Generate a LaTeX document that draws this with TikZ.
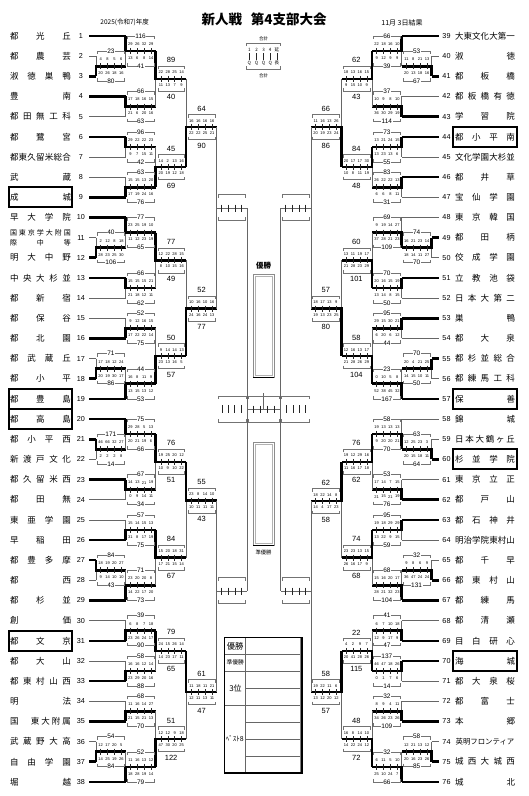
\documentclass[tikz,border=0pt]{standalone}
\usepackage{fontspec}
\setmainfont{Liberation Sans}
\newfontfamily\jp{Noto Sans CJK JP}
\usetikzlibrary{calc}
\def\gp{\hfill}
\newcommand\kokusai{\vbox{\hbox to 61pt{\fontsize{7}{7}\selectfont 国\gp 東\gp 京\gp 学\gp 大\gp 附\gp 国}\vskip2pt\hbox to 61pt{\fontsize{7}{7}\selectfont 際\gp 中\gp 等}}}
\tikzset{
 thinl/.style={draw=black!60, line width=0.6pt},
 thickl/.style={draw=black, line width=2.6pt, line join=miter},
 brk/.style={draw=black!55, line width=0.5pt},
 tickm/.style={draw=black!85, line width=0.45pt},
 lname/.style={inner sep=0pt, font=\jp\fontsize{8.5}{8.5}\selectfont},
 tnum/.style={inner sep=0pt, font=\fontsize{7.2}{7.2}\selectfont},
 qtxt/.style={inner sep=0pt, font=\fontsize{4}{4}\selectfont},
 laba/.style={inner sep=0.5pt, fill=white, font=\fontsize{6.5}{6.5}\selectfont},
 labb/.style={inner sep=0pt, font=\fontsize{7.5}{7.5}\selectfont},
 namebox/.style={draw=black, line width=1.8pt},
 leg/.style={inner sep=0pt, font=\jp\fontsize{4.5}{4.5}\selectfont},
 tabline/.style={draw=black!60, line width=0.9pt},
}
\newcommand\drawbout[4]{%
  \ifcase#4\relax
    \draw[thinl] (#2) -- (#3);
    \draw[thinl] (#2 |- #1) -- (#1);
  \or
    \draw[thinl] (#3) -- (#2 |- #1);
    \draw[thickl] (#2) -- (#2 |- #1) -- (#1);
  \or
    \draw[thinl] (#2) -- (#3 |- #1);
    \draw[thickl] (#3) -- (#3 |- #1) -- (#1);
  \fi}
\newcommand\bout[5]{%
  \path let \p1=($(#2)!.5!(#3)$) in (#4,\y1) coordinate (#1);
  \drawbout{#1}{#2}{#3}{#5}}
\newcommand\boutat[6]{%
  \coordinate (#1) at (#4,#5);
  \drawbout{#1}{#2}{#3}{#6}}
\def\qparse#1 #2 #3 #4\qend{\def\qA{#1}\def\qB{#2}\def\qC{#3}\def\qD{#4}}
\newcommand\scorebox[7]{%
  \if#2L\def\bxl{-29.75}\else\def\bxl{0}\fi
  \if#3a\def\by{15}\def\ly{15}\def\qy{7}\tikzset{curlab/.style={laba}}%
  \else\def\by{12.5}\def\ly{18.5}\def\qy{6.3}\tikzset{curlab/.style={labb}}\fi
  \begin{scope}[shift={(#1)}]
    \draw[brk] (\bxl+1.5,-\by+3) -- (\bxl+1.5,-\by) -- (\bxl+28.25,-\by) -- (\bxl+28.25,-\by+3);
    \draw[brk] (\bxl+1.5,\by-3) -- (\bxl+1.5,\by) -- (\bxl+28.25,\by) -- (\bxl+28.25,\by-3);
    \node[curlab] at (\bxl+14.9,-\ly) {#4};
    \node[curlab] at (\bxl+14.9,\ly) {#7};
    \foreach \qx in {4.65,11.55,18.45,25.35} \draw[tickm] (\bxl+\qx,-3) -- (\bxl+\qx,3);
    \edef\tmp{#5}\expandafter\qparse\tmp\qend
    \node[qtxt] at (\bxl+4.65,-\qy) {\qA};
    \node[qtxt] at (\bxl+11.55,-\qy) {\qB};
    \node[qtxt] at (\bxl+18.45,-\qy) {\qC};
    \node[qtxt] at (\bxl+25.35,-\qy) {\qD};
    \edef\tmp{#6}\expandafter\qparse\tmp\qend
    \node[qtxt] at (\bxl+4.65,\qy) {\qA};
    \node[qtxt] at (\bxl+11.55,\qy) {\qB};
    \node[qtxt] at (\bxl+18.45,\qy) {\qC};
    \node[qtxt] at (\bxl+25.35,\qy) {\qD};
  \end{scope}}
\newcommand\semibox[2]{%
  \if#2L\def\bxl{-30.5}\else\def\bxl{0}\fi
  \begin{scope}[shift={(#1)}]
   \draw[brk] (\bxl+1.5,-10.5) -- (\bxl+1.5,-13.5) -- (\bxl+29,-13.5) -- (\bxl+29,-10.5);
   \draw[brk] (\bxl+1.5,9) -- (\bxl+1.5,12) -- (\bxl+29,12) -- (\bxl+29,9);
   \foreach \qx in {5.2,11.8,18.4,25} \draw[tickm] (\bxl+\qx,-3.5) -- (\bxl+\qx,3.5);
  \end{scope}}
\begin{document}
\begin{tikzpicture}[x=1pt,y=-1pt]
\useasboundingbox (0,0) rectangle (529,796);
\fill[white] (0,0) rectangle (529,796);
% titles
\node[inner sep=0pt, font=\jp\bfseries\fontsize{13.5}{13.5}\selectfont] (ttl) at (264.2,19.5) {新人戦\hspace{0.65em}第4支部大会};
\node[inner sep=0pt, font=\jp\fontsize{6.5}{6.5}\selectfont] (yr) at (124.7,22.7) {2025(令和7)年度};
\node[inner sep=0pt, font=\jp\fontsize{7}{7}\selectfont] (dt) at (402,22.7) {11月 3日結果};
% legend
\node[leg] (lg1) at (263.5,38.3) {合計};
\draw[brk] (246.5,46) -- (246.5,43.3) -- (280.5,43.3) -- (280.5,46);
\draw[brk] (246.5,66.3) -- (246.5,69) -- (280.5,69) -- (280.5,66.3);
\foreach \xx/\ta/\tb in {249.3/1/Q,256.6/2/Q,263.5/3/Q,270.2/4/Q,276.8/延/長}{%
  \node[leg] at (\xx,49.5) {\ta};
  \draw[tickm] (\xx,53) -- (\xx,59.5);
  \node[leg] at (\xx,62.8) {\tb};}
\node[leg] (lg2) at (263.5,75.3) {合計};
% left teams
\foreach \i/\nm/\cc/\w/\bx in {
 1/都\gp 光\gp 丘/2/1/0, 2/都\gp 農\gp 芸/1/0/0, 3/淑\gp 徳\gp 巣\gp 鴨/1/1/0,
 4/豊\gp 南/2/1/0, 5/都\gp 田\gp 無\gp 工\gp 科/2/0/0, 6/都\gp 鷺\gp 宮/2/1/0,
 7/都\gp 東\gp 久\gp 留\gp 米\gp 総\gp 合/2/0/0, 8/武\gp 蔵/2/0/0, 9/成\gp 城/2/1/1,
 10/早\gp 大\gp 学\gp 院/2/1/0, 11/\kokusai/1/0/0, 12/明\gp 大\gp 中\gp 野/1/1/0,
 13/中\gp 央\gp 大\gp 杉\gp 並/2/1/0, 14/都\gp 新\gp 宿/2/0/0, 15/都\gp 保\gp 谷/2/0/0,
 16/都\gp 北\gp 園/2/1/0, 17/都\gp 武\gp 蔵\gp 丘/1/0/0, 18/都\gp 小\gp 平/1/1/0,
 19/都\gp 豊\gp 島/2/1/1, 20/都\gp 高\gp 島/2/1/1, 21/都\gp 小\gp 平\gp 西/1/1/0,
 22/新\gp 渡\gp 戸\gp 文\gp 化/1/0/0, 23/都\gp 久\gp 留\gp 米\gp 西/2/1/0, 24/都\gp 田\gp 無/2/0/0,
 25/東\gp 亜\gp 学\gp 園/2/0/0, 26/早\gp 稲\gp 田/2/1/0, 27/都\gp 豊\gp 多\gp 摩/1/1/0,
 28/都\gp 西/1/0/0, 29/都\gp 杉\gp 並/2/1/0, 30/創\gp 価/2/0/0,
 31/都\gp 文\gp 京/2/1/1, 32/都\gp 大\gp 山/2/0/0, 33/都\gp 東\gp 村\gp 山\gp 西/2/1/0,
 34/明\gp 法/2/0/0, 35/国\gp\gp\gp\gp\gp\gp 東\gp 大\gp 附\gp 属/2/1/0, 36/武\gp 蔵\gp 野\gp 大\gp 高/1/0/0,
 37/自\gp 由\gp 学\gp 園/1/1/0, 38/堀\gp 越/2/1/0}{%
  \pgfmathsetmacro\yy{36+(\i-1)*20.16}
  \node[lname] (t\i) at (40.5,\yy) {\makebox[61pt]{\nm}};
  \node[tnum] (k\i) at (81,\yy) {\i};
  \coordinate (s\i) at (89,\yy);
  \ifnum\cc=1 \coordinate (e\i) at (96,\yy); \else \coordinate (e\i) at (125.75,\yy); \fi
  \ifnum\w=1 \draw[thickl] (s\i) -- (e\i); \else \draw[thinl] (s\i) -- (e\i); \fi
  \ifnum\bx=1 \draw[namebox] (9,\yy-10) rectangle (72,\yy+10); \fi
}
% right teams
\foreach \i/\nm/\cc/\w/\bx in {
 39/大\gp 東\gp 文\gp 化\gp 大\gp 第\gp 一/2/1/0, 40/淑\gp 徳/1/0/0, 41/都\gp 板\gp 橋/1/1/0,
 42/都\gp 板\gp 橋\gp 有\gp 徳/2/0/0, 43/学\gp 習\gp 院/2/1/0, 44/都\gp 小\gp 平\gp 南/2/1/1,
 45/文\gp 化\gp 学\gp 園\gp 大\gp 杉\gp 並/2/0/0, 46/都\gp 井\gp 草/2/1/0, 47/宝\gp 仙\gp 学\gp 園/2/0/0,
 48/東\gp 京\gp 韓\gp 国/2/0/0, 49/都\gp 田\gp 柄/1/1/0, 50/佼\gp 成\gp 学\gp 園/1/0/0,
 51/立\gp 教\gp 池\gp 袋/2/1/0, 52/日\gp 本\gp 大\gp 第\gp 二/2/0/0, 53/巣\gp 鴨/2/1/0,
 54/都\gp 大\gp 泉/2/0/0, 55/都\gp 杉\gp 並\gp 総\gp 合/1/1/0, 56/都\gp 練\gp 馬\gp 工\gp 科/1/0/0,
 57/保\gp 善/2/1/1, 58/錦\gp 城/2/0/0, 59/日\gp 本\gp 大\gp 鶴\gp ヶ\gp 丘/1/0/0,
 60/杉\gp 並\gp 学\gp 院/1/1/1, 61/東\gp 京\gp 立\gp 正/2/0/0, 62/都\gp 戸\gp 山/2/1/0,
 63/都\gp 石\gp 神\gp 井/2/1/0, 64/明\gp 治\gp 学\gp 院\gp 東\gp 村\gp 山/2/0/0, 65/都\gp 千\gp 早/1/0/0,
 66/都\gp 東\gp 村\gp 山/1/1/0, 67/都\gp 練\gp 馬/2/1/0, 68/都\gp 清\gp 瀬/2/0/0,
 69/目\gp 白\gp 研\gp 心/2/1/0, 70/海\gp 城/2/1/1, 71/都\gp 大\gp 泉\gp 桜/2/0/0,
 72/都\gp 富\gp 士/2/0/0, 73/本\gp 郷/2/1/0, 74/{\fontsize{7.4}{7.4}\selectfont 英明フロンティア}/1/0/0,
 75/城\gp 西\gp 大\gp 城\gp 西/1/1/0, 76/城\gp 北/2/1/0}{%
  \pgfmathsetmacro\yy{36+(\i-39)*20.16}
  \node[lname] (t\i) at (485,\yy) {\makebox[60pt]{\nm}};
  \node[tnum] (k\i) at (446.5,\yy) {\i};
  \coordinate (s\i) at (438.5,\yy);
  \ifnum\cc=1 \coordinate (e\i) at (431.5,\yy); \else \coordinate (e\i) at (401.75,\yy); \fi
  \ifnum\w=1 \draw[thickl] (s\i) -- (e\i); \else \draw[thinl] (s\i) -- (e\i); \fi
  \ifnum\bx=1 \draw[namebox] (453,\yy-10) rectangle (517,\yy+10); \fi
}
% ---- left bracket
\foreach \o/\a/\b/\w in {m1/e2/e3/2, m2/e11/e12/2, m3/e17/e18/2, m4/e21/e22/1, m5/e27/e28/1, m6/e36/e37/2}
  {\bout{\o}{\a}{\b}{125.75}{\w}}
\foreach \o/\a/\b/\w in {n1/e1/m1/1, n2/e4/e5/1, n3/e6/e7/1, n4/e8/e9/2, n5/e10/m2/1, n6/e13/e14/1,
  n7/e15/e16/2, n8/m3/e19/2, n9/e20/m4/1, n10/e23/e24/1, n11/e25/e26/2, n12/m5/e29/2,
  n13/e30/e31/2, n14/e32/e33/2, n15/e34/e35/2, n16/m6/e38/2}
  {\bout{\o}{\a}{\b}{155.5}{\w}}
\foreach \o/\a/\b/\w in {o1/n1/n2/1, o2/n3/n4/2, o3/n5/n6/1, o4/n7/n8/2, o5/n9/n10/1, o6/n11/n12/1, o7/n13/n14/1, o8/n15/n16/2}
  {\bout{\o}{\a}{\b}{186}{\w}}
\foreach \o/\a/\b/\yy/\w in {p1/o1/o2/127/2, p2/o3/o4/308.5/2, p3/o5/o6/500.5/1, p4/o7/o8/692/1}
  {\boutat{\o}{\a}{\b}{216.5}{\yy}{\w}}
\boutat{q1}{p1}{p2}{247}{208}{0}
\boutat{q2}{p3}{p4}{247}{591}{0}
% ---- right bracket
\foreach \o/\a/\b/\w in {M1/e40/e41/2, M2/e49/e50/1, M3/e55/e56/1, M4/e59/e60/2, M5/e65/e66/2, M6/e74/e75/2}
  {\bout{\o}{\a}{\b}{401.75}{\w}}
\foreach \o/\a/\b/\w in {N1/e39/M1/1, N2/e42/e43/2, N3/e44/e45/1, N4/e46/e47/1, N5/e48/M2/2, N6/e51/e52/1,
  N7/e53/e54/1, N8/M3/e57/2, N9/e58/M4/2, N10/e61/e62/2, N11/e63/e64/1, N12/M5/e67/2,
  N13/e68/e69/2, N14/e70/e71/1, N15/e72/e73/2, N16/M6/e76/2}
  {\bout{\o}{\a}{\b}{372}{\w}}
\foreach \o/\a/\b/\w in {O1/N1/N2/1, O2/N3/N4/1, O3/N5/N6/2, O4/N7/N8/2, O5/N9/N10/1, O6/N11/N12/1, O7/N13/N14/2, O8/N15/N16/2}
  {\bout{\o}{\a}{\b}{341.5}{\w}}
\foreach \o/\a/\b/\yy/\w in {P1/O1/O2/127/2, P2/O3/O4/308.5/2, P3/O5/O6/501/1, P4/O7/O8/692/1}
  {\boutat{\o}{\a}{\b}{311}{\yy}{\w}}
\boutat{Q1}{P1}{P2}{280.5}{208}{0}
\boutat{Q2}{P3}{P4}{280.5}{591}{0}
% ---- final
\draw[thinl] (q1) -- (q2);
\draw[thinl] (Q1) -- (Q2);
\coordinate (fc) at (263.75,409);
\coordinate (fs) at (263.75,393);
\draw[thinl] (q1 |- fc) -- (Q1 |- fc);
\draw[thinl] (fc) -- (fs);
\foreach \xa/\xb in {218/246, 248.5/279, 281.5/309.5}{%
  \draw[brk] (\xa,399) -- (\xa,396) -- (\xb,396) -- (\xb,399);
  \draw[brk] (\xa,419) -- (\xa,422) -- (\xb,422) -- (\xb,419);}
\foreach \xx in {222,228,234.5,241,286.5,293,299.5,305.5} \draw[tickm] (\xx,405) -- (\xx,413);
\foreach \xx in {253,260,267.5,274.5} \draw[tickm] (\xx,405.5) -- (\xx,412.5);
% semi boxes
\semibox{q1}{L}\semibox{q2}{L}\semibox{Q1}{R}\semibox{Q2}{R}
% ---- score boxes
\foreach \mm/\bs/\bt/\tA/\qa/\qb/\tB in {
 m1/L/a/23/4 8 5 6/20 26 18 16/80, m2/L/a/40/2 12 8 18/28 23 25 30/106,
 m3/L/a/71/17 18 12 24/20 19 30 17/86, m4/L/a/171/46 66 32 27/2 2 2 8/14,
 m5/L/a/84/18 19 20 27/9 14 10 10/43, m6/L/a/54/12 17 20 5/14 25 19 26/84,
 n1/L/a/116/29 26 32 29/13 6 8 14/41, n2/L/a/66/17 18 16 15/21 6 20 16/63,
 n3/L/a/96/29 22 22 23/9 7 15 11/42, n4/L/a/63/15 15 13 20/17 19 24 16/76,
 n5/L/a/77/23 25 19 10/11 12 23 19/65, n6/L/a/66/15 15 15 21/21 18 12 11/62,
 n7/L/a/52/9 12 16 15/17 22 22 14/75, n8/L/a/44/16 8 11 9/13 15 13 12/53,
 n9/L/a/75/29 28 5 13/20 21 19 6/66, n10/L/a/67/14 13 21 19/0 9 14 11/34,
 n11/L/a/57/15 14 15 13/31 8 17 19/75, n12/L/a/71/23 20 20 8/14 22 17 20/73,
 n13/L/a/39/6 8 7 18/23 26 24 17/90, n14/L/a/58/16 16 12 14/23 29 20 16/88,
 n15/L/a/68/11 16 14 27/21 15 21 13/70, n16/L/a/52/11 16 13 12/18 28 19 14/79,
 o1/L/b/89/22 28 25 14/11 13 7 9/40, o2/L/b/45/14 2 13 16/20 19 12 18/69,
 o3/L/b/77/12 22 28 15/8 10 15 16/49, o4/L/b/50/9 14 14 13/23 13 16 5/57,
 o5/L/b/76/19 25 20 12/10 9 10 22/51, o6/L/b/84/15 20 18 31/17 21 15 14/67,
 o7/L/b/79/24 15 26 14/14 23 17 11/65, o8/L/b/51/12 12 9 18/47 30 20 25/122,
 p1/L/b/64/16 16 16 16/22 22 25 21/90, p2/L/b/52/10 16 10 16/24 16 24 13/77,
 p3/L/b/55/23 8 14 10/10 11 11 11/43, p4/L/b/61/11 18 11 21/12 11 13 11/47,
 M1/R/a/53/11 8 21 13/20 13 18 16/67, M2/R/a/74/16 21 23 14/18 14 11 27/70,
 M3/R/a/70/20 4 21 25/14 15 10 11/50, M4/R/a/63/12 25 23 3/20 15 18 11/64,
 M5/R/a/32/9 8 6 9/36 47 24 24/131, M6/R/a/58/12 21 13 12/20 16 23 26/85,
 N1/R/a/66/22 18 16 10/9 12 9 9/39, N2/R/a/37/10 9 8 10/36 30 29 19/114,
 N3/R/a/73/13 21 24 15/13 23 13 6/55, N4/R/a/83/26 22 22 13/6 6 8 11/31,
 N5/R/a/69/9 19 14 27/37 28 21 23/109, N6/R/a/70/20 16 15 19/13 14 8 15/50,
 N7/R/a/95/29 15 30 21/6 20 6 12/44, N8/R/a/23/0 10 5 8/52 38 45 32/167,
 N9/R/a/58/19 13 13 13/9 20 20 21/70, N10/R/a/53/17 14 7 15/21 15 21 19/76,
 N11/R/a/95/19 18 29 29/13 22 9 15/59, N12/R/a/68/15 16 20 17/28 21 32 23/104,
 N13/R/a/41/6 7 10 18/12 9 17 9/47, N14/R/a/137/46 47 18 26/0 1 7 6/14,
 N15/R/a/32/8 9 4 11/34 26 23 26/109, N16/R/a/32/6 11 5 10/25 10 24 7/66,
 O1/R/b/62/18 13 16 15/9 15 10 9/43, O2/R/b/84/20 17 17 30/10 8 11 19/48,
 O3/R/b/60/13 11 19 17/21 28 23 29/101, O4/R/b/58/12 16 13 17/21 28 26 29/104,
 O5/R/b/76/19 12 29 16/11 16 17 18/62, O6/R/b/74/23 23 13 15/26 16 17 9/68,
 O7/R/b/22/4 2 9 7/20 41 28 26/115, O8/R/b/48/16 8 14 10/14 22 24 12/72,
 P1/R/b/66/11 16 13 26/20 19 23 24/86, P2/R/b/57/18 17 13 9/19 13 23 25/80,
 P3/R/b/62/18 22 14 8/14 4 17 23/58, P4/R/b/58/19 22 11 6/13 12 20 12/57}
 {\scorebox{\mm}{\bs}{\bt}{\tA}{\qa}{\qb}{\tB}}
% ---- champion frames
\node[inner sep=0pt, font=\jp\bfseries\fontsize{7.5}{7.5}\selectfont] (lw) at (263.5,266) {優勝};
\draw[draw=black!45, line width=0.8pt] (253,274) rectangle (274.3,377);
\draw[draw=black!30, line width=0.8pt] (255,276) rectangle (272.3,375);
\draw[black, line width=1pt] (253,377) -- (274.3,377);
\draw[draw=black!45, line width=0.8pt] (253,442.3) rectangle (274.3,545);
\draw[draw=black!30, line width=0.8pt] (255,444.3) rectangle (272.3,543);
\draw[black, line width=1pt] (253,545) -- (274.3,545);
\node[inner sep=0pt, font=\jp\fontsize{5.3}{5.3}\selectfont] (lr) at (263.5,552.3) {準優勝};
% ---- result table
\foreach \yy in {654,671,705} \draw[tabline] (224.5,\yy) -- (302,\yy);
\foreach \yy in {688,722,739,756} \draw[tabline] (245,\yy) -- (302,\yy);
\draw[tabline] (245,637.7) -- (245,773);
\draw[draw=black!50, line width=0.8pt] (300.5,637.7) -- (300.5,773);
\draw[draw=black, line width=1.1pt] (224.5,637.7) rectangle (302,773);
\node[inner sep=0pt, font=\jp\fontsize{8.3}{8.3}\selectfont] (r1) at (235.2,646.5) {優勝};
\node[inner sep=0pt, font=\jp\fontsize{5.8}{5.8}\selectfont] (r2) at (235.2,662.7) {準優勝};
\node[inner sep=0pt, font=\jp\fontsize{8}{8}\selectfont] (r3) at (235.5,688.3) {3位};
\node[inner sep=0pt, font=\jp\fontsize{7}{7}\selectfont] (r4) at (234.8,738.5) {ﾍﾞｽﾄ8};
\end{tikzpicture}
\end{document}
